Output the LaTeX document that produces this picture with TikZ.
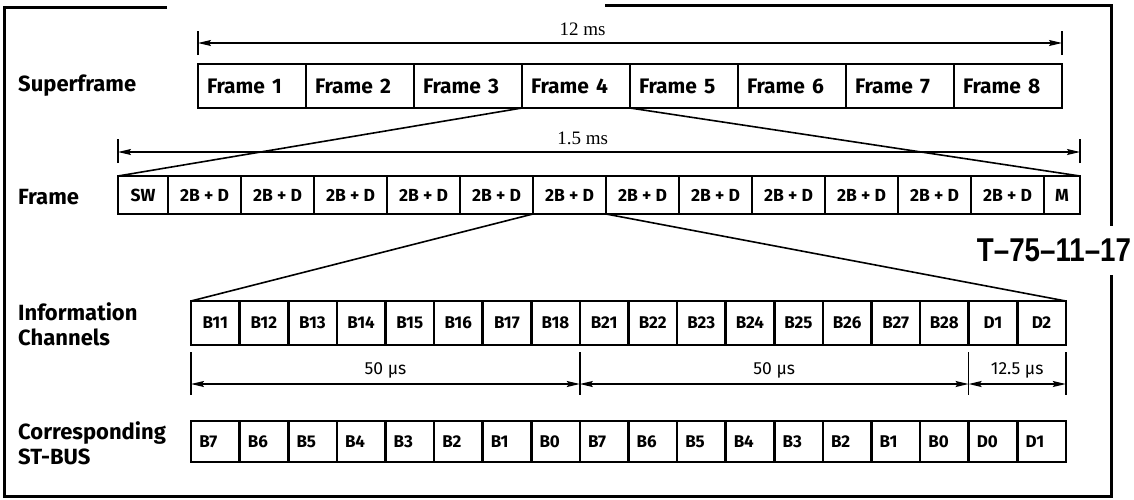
\documentclass[tikz,border=0pt]{standalone}
\usepackage{fontspec}
\setmainfont{Fira Sans}
\newfontfamily\dimfont{Liberation Serif}
\newfontfamily\tagfont[FakeStretch=0.84]{Liberation Sans}
\usepackage{tikz}
\usetikzlibrary{calc}
\usetikzlibrary{positioning}
\usetikzlibrary{arrows.meta}

\begin{document}
\begin{tikzpicture}[x=1pt, y=-1pt,
    cell/.style={rectangle, draw=black, line width=2.6pt, inner sep=0pt, outer sep=0pt, anchor=west},
    sfcell/.style={cell, minimum width=108pt, minimum height=44pt, text width=90pt, align=left, font=\bfseries\fontsize{21}{23}\selectfont},
    frcell/.style={cell, minimum width=73pt, minimum height=38pt, text centered, font=\bfseries\fontsize{17.5}{19}\selectfont},
    iccell/.style={cell, minimum width=48.6pt, minimum height=44pt, text centered, font=\bfseries\fontsize{17}{19}\selectfont},
    stcell/.style={cell, minimum width=48.6pt, minimum height=41pt, text width=32pt, align=left, font=\bfseries\fontsize{17}{19}\selectfont},
    rowlabel/.style={anchor=west, align=left, inner sep=0pt, font=\bfseries\fontsize{22}{25}\selectfont},
    dimline/.style={line width=1.3pt, {Stealth[length=13pt, width=6pt, inset=2pt]}-{Stealth[length=13pt, width=6pt, inset=2pt]}},
    tick/.style={line width=1.5pt},
    fan/.style={line width=1.6pt},
    border/.style={line width=3pt}]

    \useasboundingbox (0,0) rectangle (1134,499);

    \node [rowlabel] (lsuper) at (18, 86) {Superframe};
    \node [rowlabel] (lframe) at (18, 197) {Frame};
    \node [rowlabel] (linfo) at (18, 324) {Information\\Channels};
    \node [rowlabel] (lst) at (18, 443) {Corresponding\\ST-BUS};

    \foreach \i in {1,...,8}
        \node [sfcell] (sf\i) at ({198+(\i-1)*108}, 86) {Frame \i};

    \node [frcell, minimum width=50pt] (fr0) at (118, 195) {SW};
    \foreach \i [count=\j from 0] in {1,...,12}
        \node [frcell, right=0pt of fr\j] (fr\i) {2B + D};
    \node [frcell, minimum width=36pt, right=0pt of fr12] (fr13) {M};

    \foreach \t [count=\i] in {B11,B12,B13,B14,B15,B16,B17,B18,B21,B22,B23,B24,B25,B26,B27,B28,D1,D2}
        \node [iccell] (ic\i) at ({191+(\i-1)*48.6}, 323) {\t};

    \foreach \t [count=\i] in {B7,B6,B5,B4,B3,B2,B1,B0,B7,B6,B5,B4,B3,B2,B1,B0,D0,D1}
        \node [stcell] (st\i) at ({191+(\i-1)*48.6}, 441.5) {\t};

    \draw [tick] ([yshift=9pt]sf1.north west) -- ([yshift=33pt]sf1.north west);
    \draw [tick] ([yshift=9pt]sf8.north east) -- ([yshift=33pt]sf8.north east);
    \draw [dimline] ([yshift=21pt]sf1.north west) -- node [pos=0.445, above=3pt, font=\dimfont\fontsize{19}{21}\selectfont] (t12) {12 ms} ([yshift=21pt]sf8.north east);

    \draw [tick] ([yshift=13pt]fr0.north west) -- ([yshift=37pt]fr0.north west);
    \draw [tick] ([yshift=13pt]fr13.north east) -- ([yshift=37pt]fr13.north east);
    \draw [dimline] ([yshift=24pt]fr0.north west) -- node [pos=0.483, above=3pt, font=\dimfont\fontsize{19}{21}\selectfont] (t15) {1.5 ms} ([yshift=24pt]fr13.north east);

    \draw [fan] (sf4.south west) -- (fr0.north west);
    \draw [fan] (sf4.south east) -- (fr13.north east);
    \draw [fan] (fr6.south west) -- (ic1.north west);
    \draw [fan] (fr6.south east) -- (ic18.north east);

    \draw [tick] ([yshift=-7pt]ic1.south west) -- ([yshift=-50pt]ic1.south west);
    \draw [tick] ([yshift=-7pt]ic8.south east) -- ([yshift=-50pt]ic8.south east);
    \draw [tick] ([yshift=-7pt]ic16.south east) -- ([yshift=-50pt]ic16.south east);
    \draw [tick] ([yshift=-7pt]ic18.south east) -- ([yshift=-50pt]ic18.south east);
    \draw [dimline] ([yshift=-39pt]ic1.south west) -- node [above=2pt, font=\fontsize{17.5}{19}\selectfont] (t50a) {50 µs} ([yshift=-39pt]ic8.south east);
    \draw [dimline] ([yshift=-39pt]ic9.south west) -- node [above=2pt, font=\fontsize{17.5}{19}\selectfont] (t50b) {50 µs} ([yshift=-39pt]ic16.south east);
    \draw [dimline] ([yshift=-39pt]ic17.south west) -- node [above=2pt, font=\fontsize{17.5}{19}\selectfont] (t125) {12.5 µs} ([yshift=-39pt]ic18.south east);

    \coordinate (b1) at (4, 7);
    \coordinate (b2) at (167, 7);
    \coordinate (b3) at (605, 5);
    \coordinate (b4) at (1111, 5);
    \coordinate (b5) at (1111, 226);
    \coordinate (b6) at (1111, 275);
    \coordinate (b7) at (1111, 496);
    \coordinate (b8) at (4, 496);
    \draw [border] (b2) -- (b1) -- (b8) -- (b7) -- (b6);
    \draw [border] (b3) -- (b4) -- (b5);

    \node [font=\tagfont\bfseries\fontsize{33}{35}\selectfont, inner sep=0pt] (tag) at (1054, 250) {T–75–11–17};
\end{tikzpicture}
\end{document}
